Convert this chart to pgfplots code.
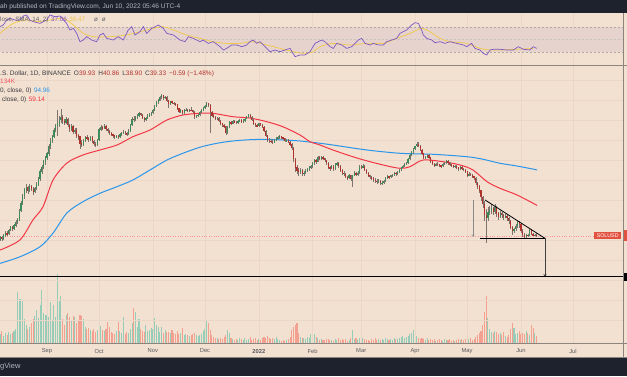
\documentclass[border=0pt]{standalone}
\usepackage{pgfplots}
\pgfplotsset{compat=1.18}
\usepackage{pgfplotstable}
\usepackage{fontspec}
\setmainfont{Liberation Sans}
\usetikzlibrary{arrows.meta}
\definecolor{bg}{RGB}{242,224,209}
\definecolor{dark}{RGB}{30,34,45}
\definecolor{band}{RGB}{231,211,206}
\definecolor{gridc}{RGB}{234,215,199}
\definecolor{paneline}{RGB}{140,132,126}
\definecolor{cgreen}{RGB}{60,140,90}
\definecolor{cred}{RGB}{178,50,45}
\definecolor{wick}{RGB}{125,118,112}
\definecolor{vgreen}{RGB}{150,205,185}
\definecolor{vred}{RGB}{243,160,145}
\definecolor{maRed}{RGB}{242,54,69}
\definecolor{maBlue}{RGB}{41,150,235}
\definecolor{rsi}{RGB}{126,87,194}
\definecolor{rsisma}{RGB}{240,200,70}
\definecolor{txt}{RGB}{60,60,65}
\definecolor{lbl}{RGB}{226,82,64}
\definecolor{hdr}{RGB}{180,183,190}

\pgfplotstableread{
d o h l c v
-27 37.2 39.5 36.6 38.5 9
-26 38.5 39.2 37.0 37.8 12
-25 37.8 40.4 37.3 39.6 7
-24 39.6 42.0 39.0 41.0 10
-23 41.0 41.8 39.4 40.2 8
-22 40.2 43.4 39.8 42.5 11
-21 42.5 45.2 41.9 44.0 9
-20 44.0 45.0 42.2 43.1 10
-19 43.1 46.4 42.6 45.3 12
-18 45.3 48.5 44.6 47.2 14
-17 47.2 50.2 46.1 48.5 51
-16 48.5 56.5 47.9 55.0 44
-15 55.0 62.8 53.8 61.0 44
-14 61.0 68.5 59.5 67.0 42
-13 67.0 74.8 64.0 73.0 24
-12 73.0 78.5 70.2 75.0 18
-11 75.0 77.0 69.0 72.0 14
-10 72.0 78.8 70.5 76.0 16
-9 76.0 77.5 71.6 73.5 20
-8 73.5 75.2 68.0 71.0 24
-7 71.0 76.0 69.5 74.5 27
-6 74.5 80.5 73.0 78.0 33
-5 78.0 86.5 76.4 84.0 25
-4 84.0 95.5 82.0 93.0 38
-3 93.0 101 90.0 98.0 53
-2 98.0 109 95.5 106 30
-1 106 115 101 112 28
0 112 121 108 118 28
1 118 134 115 131 26
2 131 145 126 140 41
3 140 152 135 148 23
4 148 166 145 162 38
5 162 176 157 170 26
6 170 212 150 176 69
7 176 195 168 185 43
8 185 214 178 192 47
9 192 198 176 182 24
10 182 188 172 178 18
11 178 192 175 186 28
12 186 190 168 172 30
13 172 176 158 165 26
14 165 174 160 170 22
15 170 172 154 158 27
16 158 166 153 162 26
17 162 165 146 150 20
18 150 154 142 148 22
19 148 150 125 135 28
20 135 141 128 133 27
21 133 144 130 140 24
22 140 150 137 146 16
23 146 151 141 145 14
24 145 148 137 142 15
25 142 150 139 147 13
26 147 149 136 139 12
27 139 142 131 134 14
28 134 137 129 133 11
29 133 144 131 141 13
30 141 166 140 163 21
31 163 172 160 168 17
32 168 171 162 166 13
33 166 174 163 170 12
34 170 172 160 164 14
35 164 167 156 160 21
36 160 162 151 155 16
37 155 158 149 152 11
38 152 154 146 150 10
39 150 152 143 147 9
40 147 152 145 149 12
41 149 151 144 148 21
42 148 155 146 152 12
43 152 158 150 156 10
44 156 162 153 158 26
45 158 160 152 155 9
46 155 157 150 153 11
47 153 163 152 160 10
48 160 175 158 172 14
49 172 192 170 188 20
50 188 194 180 186 35
51 186 196 183 192 31
52 192 199 188 195 16
53 195 206 192 202 24
54 202 204 194 198 14
55 198 200 186 190 12
56 190 193 180 184 11
57 184 193 182 190 18
58 190 199 188 196 12
59 196 203 193 199 13
60 199 206 195 202 15
61 202 214 200 210 14
62 210 226 207 222 25
63 222 238 219 234 18
64 234 244 230 240 16
65 240 254 237 250 11
66 250 260 245 256 16
67 256 258 242 248 10
68 248 256 245 252 13
69 252 254 236 240 11
70 240 242 218 228 11
71 228 239 225 236 10
72 236 238 228 232 13
73 232 236 226 230 10
74 230 233 224 228 9
75 228 230 212 215 12
76 215 218 203 206 9
77 206 213 203 210 10
78 210 212 198 202 15
79 202 213 200 210 8
80 210 216 207 212 9
81 212 215 205 208 8
82 208 215 206 212 7
83 212 220 208 210 8
84 210 212 203 206 9
85 206 208 188 193 10
86 193 198 189 195 8
87 195 201 192 198 7
88 198 208 196 205 8
89 205 213 202 210 9
90 210 219 207 216 12
91 216 226 213 222 14
92 222 235 219 230 23
93 230 232 221 225 20
94 225 228 155 205 13
95 205 208 193 196 8
96 196 199 189 192 6
97 192 194 184 188 5
98 188 193 185 190 5
99 190 192 179 182 4
100 182 184 173 176 5
101 176 178 169 172 4
102 172 175 167 170 6
103 170 171 152 156 8
104 156 170 154 168 13
105 168 183 166 180 10
106 180 183 173 176 5
107 176 185 174 182 4
108 182 184 177 180 3
109 180 182 175 178 4
110 178 185 176 182 3
111 182 187 180 184 5
112 184 186 177 180 4
113 180 186 178 183 3
114 183 190 181 188 5
115 188 195 186 192 3
116 192 200 190 197 4
117 197 199 190 193 6
118 193 195 183 185 3
119 185 187 174 176 4
120 176 178 169 172 5
121 172 174 168 171 3
122 171 178 169 176 4
123 176 178 170 173 3
124 173 175 165 168 5
125 168 170 157 160 6
126 160 162 147 150 5
127 150 152 138 142 7
128 142 145 136 140 5
129 140 143 135 138 4
130 138 141 134 137 5
131 137 144 135 141 4
132 141 148 139 145 6
133 145 150 143 147 4
134 147 151 144 148 3
135 148 150 143 146 2
136 146 148 142 145 3
137 145 146 138 140 2
138 140 144 138 141 3
139 141 143 136 138 4
140 138 139 130 133 6
141 133 135 124 127 13
142 127 128 106 110 16
143 110 112 92 98 18
144 98 101 90 94 20
145 94 97 88 92 10
146 92 97 90 95 6
147 95 96 87 90 5
148 90 93 88 91 5
149 91 96 90 94 4
150 94 98 92 96 6
151 96 100 94 98 5
152 98 102 96 100 9
153 100 106 98 104 17
154 104 110 102 108 9
155 108 110 103 106 6
156 106 114 105 112 5
157 112 115 108 110 3
158 110 114 108 112 4
159 112 114 109 111 3
160 111 112 106 108 3
161 108 109 102 104 4
162 104 105 96 98 4
163 98 100 94 97 3
164 97 102 96 100 3
165 100 101 94 96 2
166 96 104 95 102 4
167 102 106 100 104 3
168 104 105 98 100 5
169 100 101 92 94 3
170 94 96 89 91 4
171 91 93 88 90 3
172 90 91 85 86 4
173 86 88 83 85 2
174 85 90 84 88 3
175 88 89 82 84 5
176 84 89 76 88 13
177 88 93 87 91 4
178 91 92 87 89 5
179 89 93 88 91 3
180 91 101 90 99 5
181 99 102 96 98 4
182 98 103 97 100 5
183 100 101 93 95 4
184 95 96 90 91 3
185 91 92 86 88 3
186 88 89 84 86 2
187 86 88 83 85 4
188 85 86 81 83 3
189 83 85 80 82 5
190 82 84 79 81 3
191 81 84 80 82 4
192 82 83 78 80 3
193 80 82 78 80 4
194 80 83 79 82 3
195 82 86 81 85 5
196 85 89 84 87 4
197 87 88 84 86 3
198 86 89 85 88 4
199 88 90 86 89 3
200 89 92 88 91 5
201 91 92 88 90 4
202 90 93 89 92 4
203 92 96 91 95 5
204 95 99 94 98 6
205 98 101 97 100 7
206 100 104 99 103 5
207 103 105 101 104 6
208 104 111 103 110 7
209 110 117 108 116 9
210 116 122 114 120 10
211 120 127 118 126 13
212 126 131 123 130 8
213 130 137 128 133 7
214 133 137 129 131 5
215 131 132 122 124 4
216 124 125 116 118 5
217 118 119 110 112 4
218 112 115 110 113 3
219 113 118 112 116 5
220 116 117 110 112 3
221 112 113 104 106 4
222 106 107 101 103 3
223 103 104 99 101 4
224 101 104 100 103 2
225 103 105 100 102 3
226 102 103 99 101 4
227 101 102 98 100 3
228 100 104 99 103 2
229 103 106 102 104 4
230 104 109 103 107 3
231 107 108 102 104 3
232 104 105 100 102 4
233 102 103 99 101 2
234 101 102 97 99 3
235 99 101 98 100 2
236 100 101 96 98 3
237 98 99 94 96 4
238 96 100 95 99 3
239 99 100 95 96 4
240 96 97 93 95 3
241 95 96 91 93 4
242 93 94 86 88 5
243 88 92 87 90 4
244 90 91 87 89 5
245 89 90 85 87 3
246 87 88 83 85 4
247 85 86 78 80 6
248 80 81 74 76 8
249 76 78 70 72 10
250 72 73 63 66 12
251 66 67 57 60 18
252 60 63 48 52 31
253 52 56 36 50 47
254 50 58 48 54 25
255 54 59 52 55 14
256 55 60 53 57 11
257 57 58 52 54 10
258 54 60 53 58 12
259 58 59 51 53 11
260 53 54 49 51 9
261 51 55 50 53 10
262 53 54 50 52 8
263 52 53 49 51 11
264 51 53 50 51 7
265 51 52 48 50 6
266 50 51 46 48 8
267 48 49 43 44 14
268 44 45 40 42 20
269 42 44 41 43 15
270 43 46 42 45 9
271 45 48 44 47 10
272 47 48 44 46 12
273 46 47 41 42 9
274 42 43 39 40 10
275 40 41 38.5 39 9
276 39 40.5 38.4 39.7 12
277 39.7 40.3 38.8 39.5 10
278 39.5 43.3 39.2 42.6 8
279 42.6 43 39.8 40.2 18
280 40.2 40.8 39.2 39.9 15
281 39.9 40.6 39.3 39.93 10
282 39.93 40.86 38.90 39.33 7
}\ohlc

\pgfplotstableread{
d p
-27.1 32.6
-15.6 37.3
-8.1 48.7
-2.3 58.1
3.5 83.0
11.5 104.1
20.7 115.8
30.5 123.8
40.3 132.3
49.5 147.8
59.3 161.6
69.1 184.7
78.3 197.4
88.1 201.9
95.6 201.9
107.1 193.0
116.9 189.6
126.7 180.5
135.9 168.8
145.7 151.2
151.5 138.3
157.3 132.3
164.7 123.8
179.1 110.8
193.5 101.4
203.3 97.0
209.1 99.1
216.6 108.3
228.1 105.9
237.9 101.4
245.4 94.8
253.5 81.1
260.9 74.3
270.7 68.0
282.3 59.14
}\maFifty

\pgfplotstableread{
d p
-27.1 27.3
-15.6 29.8
-4.0 34.1
3.5 40.9
11.5 53.5
20.7 62.1
30.5 69.5
40.3 75.9
49.5 83.0
59.3 94.8
69.1 108.3
78.3 118.5
88.1 128.4
97.9 135.4
107.1 139.6
116.9 142.0
126.7 142.7
135.9 141.5
145.7 139.6
157.3 135.4
164.7 132.3
184.3 123.8
203.3 118.5
222.4 116.9
241.9 113.2
251.2 109.4
260.9 103.7
270.7 100.0
282.3 94.96
}\maTwoHundred

\pgfplotstableread{
d r
-27.1 70.2
-25.2 72.9
-23.2 80.9
-21.3 83.5
-18.4 80.9
-15.6 80.9
-13.6 87.3
-11.7 88.9
-9.8 80.9
-7.9 78.2
-4.0 75.5
-0.2 80.9
1.7 88.9
4.6 86.2
7.5 87.3
11.3 75.5
13.2 64.9
15.2 67.5
17.1 59.5
19.0 46.2
20.9 48.9
22.9 54.2
25.7 48.9
28.6 46.2
30.5 56.9
32.4 59.5
34.4 51.5
38.2 48.9
41.1 54.2
44.0 48.9
46.8 64.9
48.8 70.2
50.7 56.9
53.6 62.2
55.5 70.2
57.4 59.5
60.3 67.5
62.2 70.2
64.1 72.9
67.0 67.5
69.0 59.5
72.8 56.9
76.6 48.9
79.5 46.2
81.4 54.2
84.3 51.5
88.1 46.2
90.0 48.9
92.9 43.5
95.8 46.2
99.7 38.2
101.6 32.9
103.5 35.5
106.4 40.9
109.3 40.9
112.2 38.2
115.0 40.9
116.9 46.2
118.8 48.9
120.8 43.5
122.7 46.2
125.6 38.2
128.5 30.2
131.3 32.9
134.2 30.2
137.1 32.9
140.0 35.5
142.9 22.2
145.7 24.9
148.6 24.9
151.5 30.2
154.4 43.5
156.3 46.2
158.2 48.9
160.1 46.2
163.0 38.2
164.9 35.5
166.9 43.5
169.8 40.9
172.6 35.5
175.5 38.2
179.3 48.9
181.3 51.5
183.2 43.5
186.1 40.9
188.0 43.5
190.9 40.9
193.7 40.9
195.7 46.2
198.6 48.9
201.4 51.5
203.3 59.5
205.2 62.2
207.2 64.9
210.1 72.9
212.0 76.6
213.9 75.5
215.8 64.9
216.8 56.9
218.7 51.5
221.6 48.9
223.5 44.6
226.4 46.2
229.3 43.5
232.1 46.2
236.0 43.5
239.8 40.9
241.8 38.2
244.6 43.5
246.5 35.5
249.4 32.9
251.3 27.5
253.3 24.9
255.2 32.9
257.1 34.0
260.9 34.0
264.8 32.9
268.6 32.9
271.5 38.2
274.4 34.0
278.2 32.9
280.1 38.2
282.1 35.5
}\rsiData

\pgfplotstableread{
d r
-27.1 59.5
-19.4 75.5
-11.7 80.9
-5.9 78.2
1.7 80.9
9.4 83.5
15.2 72.9
20.9 59.5
26.7 54.2
36.3 54.2
45.9 56.9
53.6 62.2
61.2 67.5
67.0 70.2
72.8 64.9
80.5 56.9
88.1 51.5
95.8 46.2
103.5 43.5
111.2 43.5
118.8 46.2
126.5 40.9
134.2 35.5
141.9 30.2
147.6 27.5
153.4 30.2
157.3 38.2
164.9 43.5
174.5 40.9
184.2 43.5
193.7 43.5
201.4 51.5
209.1 59.5
215.8 67.5
220.6 62.2
226.4 51.5
232.1 46.2
241.8 43.5
249.4 35.5
255.2 32.9
260.9 32.9
270.6 34.0
280.1 35.5
}\rsiSma

\pgfplotsset{
  pane/.style={scale only axis, width=623.7pt, xmin=-27.07, xmax=332.2,
    axis line style={draw=none}, major tick length=0pt,
    xtick={0,30,61,91,122,153,181,212,242,273,303},
    xticklabels={}, yticklabels={}},
  candle/.style={only marks, mark=*, mark size=0pt, mark options={draw=none, fill=none},
    error bars/.cd, y dir=both, y explicit, error mark=none},
}

\begin{document}
\begin{tikzpicture}
\path[use as bounding box] (0pt,0pt) rectangle (627pt,376pt);
\clip (0pt,0pt) rectangle (627pt,376pt);
\fill[bg] (0pt,0pt) rectangle (627pt,376pt);
\fill[dark] (0pt,363pt) rectangle (627pt,376pt);
\fill[dark] (0pt,0pt) rectangle (627pt,18.7pt);

% ---------- RSI pane ----------
\begin{axis}[pane, at={(0pt,311pt)}, anchor=south west, height=52pt,
  ymin=8.9, ymax=92.1, ytick=\empty,
  xmajorgrids, major grid style={gridc, line width=0.4pt}]
  \fill[band] (axis cs:-40,30) rectangle (axis cs:340,70);
  \draw[paneline!70, dash pattern=on 2pt off 2pt, line width=0.45pt] (axis cs:-40,70) -- (axis cs:340,70);
  \draw[paneline!50, dash pattern=on 2pt off 2pt, line width=0.45pt] (axis cs:-40,50) -- (axis cs:340,50);
  \draw[paneline!70, dash pattern=on 2pt off 2pt, line width=0.45pt] (axis cs:-40,30) -- (axis cs:340,30);
  \addplot[rsisma, line width=0.7pt, smooth] table[x=d, y=r] {\rsiSma};
  \addplot[rsi, line width=0.7pt] table[x=d, y=r] {\rsiData};
\end{axis}

% ---------- volume ----------
\begin{axis}[pane, at={(0pt,33pt)}, anchor=south west, height=70pt,
  ymin=0, ymax=70, ytick=\empty, xtick=\empty]
  \addplot[ycomb, vgreen, line width=1.05pt] table[x=d, y expr={\thisrow{c}>=\thisrow{o} ? \thisrow{v} : nan}] {\ohlc};
  \addplot[ycomb, vred, line width=1.05pt] table[x=d, y expr={\thisrow{c}<\thisrow{o} ? \thisrow{v} : nan}] {\ohlc};
\end{axis}

% ---------- price pane (log price as ln) ----------
\begin{axis}[pane, at={(0pt,33pt)}, anchor=south west, height=278pt,
  ymin=2.245, ymax=5.952,
  ytick={2.552,2.819,3.085,3.352,3.619,3.885,4.152,4.419,4.685,4.952,5.219,5.485,5.752},
  grid=major, major grid style={gridc, line width=0.4pt},
  xticklabels={Sep,Oct,Nov,Dec,\textbf{2022},Feb,Mar,Apr,May,Jun,Jul},
  xticklabel style={anchor=center, yshift=-8pt, font=\fontsize{5.8}{7}\selectfont, text=txt!85}]
  % current price line
  \addplot[maRed!55, dotted, line width=0.4pt] table[x=d, y expr={ln(\thisrow{p})}] {
    d p
    -27.1 39.33
    315.1 39.33
  };
  \addplot[maBlue, line width=1.0pt, smooth] table[x=d, y expr={ln(\thisrow{p})}] {\maTwoHundred};
  \addplot[maRed, line width=1.0pt, smooth] table[x=d, y expr={ln(\thisrow{p})}] {\maFifty};
  % wicks
  \addplot[candle, error bar style={wick, line width=0.45pt}]
    table[x=d, y expr={ln(\thisrow{c})}, y error plus expr={ln(\thisrow{h})-ln(\thisrow{c})},
      y error minus expr={ln(\thisrow{c})-ln(\thisrow{l})}] {\ohlc};
  % green bodies
  \addplot[candle, error bar style={cgreen, line width=1.2pt}]
    table[x=d, y expr={\thisrow{c}>=\thisrow{o} ? (ln(\thisrow{o})+ln(\thisrow{c}))/2 : nan},
      y error expr={abs(ln(\thisrow{c})-ln(\thisrow{o}))/2+0.002}] {\ohlc};
  % red bodies
  \addplot[candle, error bar style={cred, line width=1.2pt}]
    table[x=d, y expr={\thisrow{c}<\thisrow{o} ? (ln(\thisrow{o})+ln(\thisrow{c}))/2 : nan},
      y error expr={abs(ln(\thisrow{c})-ln(\thisrow{o}))/2+0.002}] {\ohlc};
  % descending triangle
  \addplot[black, line width=0.8pt] table[x=d, y expr={ln(\thisrow{p})}] {
    d p
    252.3 63.6
    286.9 38.1
  };
  \addplot[black, line width=0.8pt] table[x=d, y expr={ln(\thisrow{p})}] {
    d p
    249.4 38.1
    286.9 38.1
  };
  \addplot[black!75, line width=0.7pt, -{To[length=2.5pt,width=3pt]}] table[x=d, y expr={ln(\thisrow{p})}] {
    d p
    286.9 38.1
    286.9 22.9
  };
  \addplot[black!45, line width=0.5pt, -{To[length=2.5pt,width=3pt]}] table[x=d, y expr={ln(\thisrow{p})}] {
    d p
    245.4 63.6
    245.4 38.9
  };
  % target line
  \addplot[black, line width=1.3pt] table[x=d, y expr={ln(\thisrow{p})}] {
    d p
    -30 22.9
    340 22.9
  };
\end{axis}

% pane borders
\draw[paneline, line width=0.6pt] (0pt,310.7pt) -- (627pt,310.7pt);
\draw[paneline, line width=0.6pt] (0pt,32.7pt) -- (627pt,32.7pt);
\draw[paneline, line width=0.6pt] (0pt,18.9pt) -- (627pt,18.9pt);
\draw[paneline, line width=0.6pt] (623.7pt,18.9pt) -- (623.7pt,363pt);

% price scale labels
\node[fill=lbl, text=white, anchor=west, inner xsep=2.6pt, inner ysep=0pt, minimum height=7.6pt,
  font=\fontsize{5.3}{6}\selectfont] at (594pt,140.5pt) {SOLUSD};
\fill[lbl] (624.2pt,135pt) rectangle (627pt,146pt);
\fill[black] (624.2pt,95pt) rectangle (627pt,103pt);

% texts
\node[anchor=west, inner sep=0pt, text=hdr, font=\fontsize{6.6}{7.5}\selectfont] at (0pt,369.5pt)
  {ah published on TradingView.com, Jun 10, 2022 05:46 UTC-4};
\node[anchor=west, inner sep=0pt, text=txt!80, font=\fontsize{6.3}{7}\selectfont] at (0pt,356pt)
  {lose, SMA, 14, 2)\hspace{2.5pt}\textcolor{rsi}{37.06}\hspace{2.5pt}\textcolor{rsisma}{36.47}\hspace{9pt}ø\hspace{4pt}ø};
\node[anchor=west, inner sep=0pt, text=txt, font=\fontsize{6.5}{7.5}\selectfont] at (0pt,302.5pt)
  {.S. Dollar, 1D, BINANCE\hspace{3pt}O\textcolor{cred}{39.93}\hspace{3pt}H\textcolor{cred}{40.86}\hspace{3pt}L\textcolor{cred}{38.90}\hspace{3pt}C\textcolor{cred}{39.33}\hspace{3pt}\textcolor{cred}{−0.59 (−1.48\%)}};
\node[anchor=west, inner sep=0pt, text=maRed!85, font=\fontsize{6.4}{7.5}\selectfont] at (0pt,294.7pt) {134K};
\node[anchor=west, inner sep=0pt, text=txt, font=\fontsize{6.4}{7.5}\selectfont] at (0pt,285.3pt)
  {0, close, 0)\hspace{2.5pt}\textcolor{maBlue}{94.96}};
\node[anchor=west, inner sep=0pt, text=txt, font=\fontsize{6.4}{7.5}\selectfont] at (2pt,276pt)
  {close, 0)\hspace{2.5pt}\textcolor{maRed}{59.14}};
\node[anchor=west, inner sep=0pt, text=hdr, font=\fontsize{7.5}{8}\selectfont] at (0pt,9pt) {gView};
\end{tikzpicture}
\end{document}
